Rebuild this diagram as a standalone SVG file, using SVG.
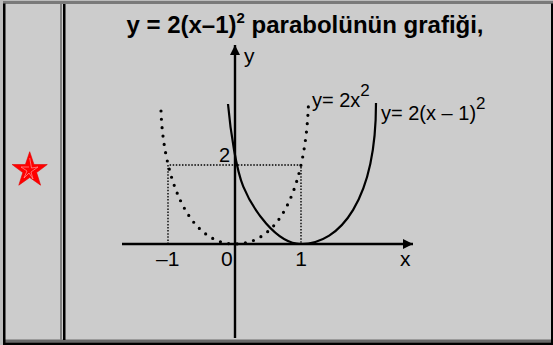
<svg xmlns="http://www.w3.org/2000/svg" width="553" height="345" viewBox="0 0 553 345">
<style>
.lbl{font-family:"Liberation Sans",Arial,sans-serif;fill:#000}
.ttl{font-family:"Liberation Sans",Arial,sans-serif;font-weight:bold;fill:#000}
.axis{stroke:#000;stroke-width:2.4;fill:none}
.guide{stroke:#000;stroke-width:1.4;stroke-dasharray:1.5 1.6;fill:none}
.curve{stroke:#000;stroke-width:2.2;fill:none}
.dots{stroke:#000;stroke-width:3.2;stroke-linecap:round;stroke-dasharray:0 8.4;fill:none}
</style>
<defs>
<marker id="ah" viewBox="0 0 10 10" refX="10" refY="5" markerWidth="15" markerHeight="10" markerUnits="userSpaceOnUse" orient="auto">
<path d="M0,0 L10,5 L0,10 z" fill="#000"/>
</marker>
</defs>
<g id="frame">
<rect x="0" y="0" width="553" height="345" fill="#bcbcbc"/>
<rect x="3" y="1" width="550" height="343" fill="#cccccc"/>
<rect x="3" y="1" width="550" height="3" fill="#7a7a7a"/>
<rect x="3" y="339.5" width="550" height="3" fill="#6a6a6a"/>
<rect x="3" y="342.5" width="550" height="2.5" fill="#000"/>
<rect x="3" y="3.5" width="2.5" height="341" fill="#000"/>
<rect x="551" y="3.5" width="2" height="341" fill="#000"/>
<rect x="60" y="4" width="2" height="336" fill="#808080"/>
<rect x="63" y="4" width="2.5" height="336" fill="#000"/>
</g>
<g id="star">
<polygon points="29.7,151.7 34,164.5 47.3,164.5 36.6,172.6 40.6,185.2 29.7,177.5 18.8,185.2 22.8,172.6 12.1,164.5 25.4,164.5" fill="#ff0000" stroke="#e00000" stroke-width="0.6"/>
<polyline points="29.7,158 31.5,168 38,167 31,172 33,179 29,173 24,178 27,171 21,167 29,167" fill="none" stroke="#ff9a9a" stroke-width="0.7"/>
</g>
<g id="title">
<text class="ttl" x="305" y="33" font-size="24" text-anchor="middle">y = 2(x–1)<tspan font-size="15" dy="-10">2</tspan><tspan dy="10"> parabolünün grafiği,</tspan></text>
</g>
<g id="connectors">
<line class="axis" x1="122" y1="244" x2="413" y2="244" marker-end="url(#ah)"/>
<line class="axis" x1="235" y1="338" x2="235" y2="45" marker-end="url(#ah)"/>
<polyline class="guide" points="168,244 168,165 301,165 301,244"/>
</g>
<g id="curve-2x2">
<path class="dots" d="M161,111 C163,170 185,244 235,244 C285,244 306,175 308.5,103"/>
</g>
<g id="curve-2x-1-2">
<path class="curve" d="M228,104 C230.5,132 236.3,169.7 243.3,186.7 C252.3,208.4 276,244 301,244 C340,244 376,200 376,103"/>
</g>
<g id="labels">
<text class="lbl" x="244" y="63" font-size="21">y</text>
<text class="lbl" x="400" y="266" font-size="21">x</text>
<text class="lbl" x="156" y="266" font-size="21">–1</text>
<text class="lbl" x="221" y="266" font-size="21">0</text>
<text class="lbl" x="301" y="266" font-size="21" text-anchor="middle">1</text>
<text class="lbl" x="230" y="162" font-size="20" text-anchor="end">2</text>
<text class="lbl" x="312" y="107" font-size="20">y= 2x<tspan font-size="17" dy="-11">2</tspan></text>
<text class="lbl" x="381" y="120" font-size="20">y= 2(x – 1)<tspan font-size="17" dy="-11">2</tspan></text>
</g>
</svg>
